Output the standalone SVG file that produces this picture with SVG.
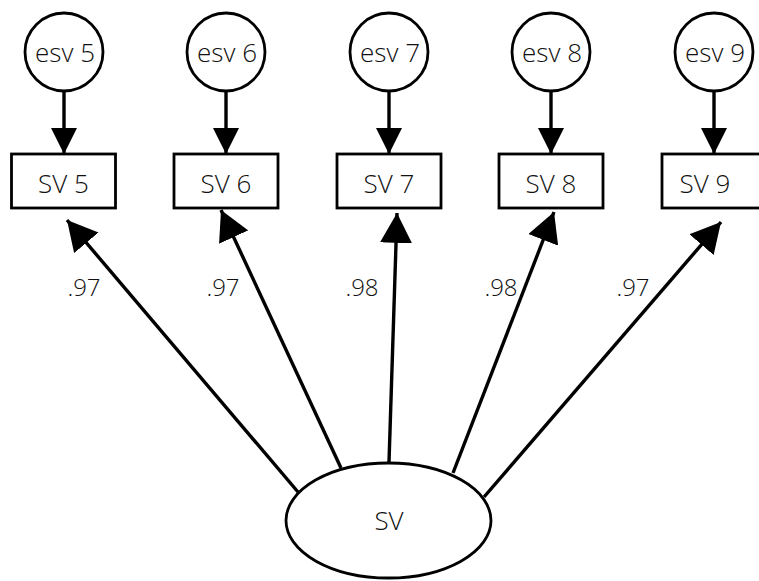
<svg xmlns="http://www.w3.org/2000/svg" width="759" height="581" viewBox="0 0 759 581">
<style>
.n{fill:#fff;stroke:#000;stroke-width:2.8}
.t{font-family:"Open Sans","Noto Sans","DejaVu Sans",sans-serif;font-weight:300;font-size:26px;fill:#111;text-anchor:middle}
.l{font-size:24px}
.e{stroke:#000;stroke-width:3.4;fill:none}
</style>
<defs>
<marker id="a1" markerUnits="userSpaceOnUse" markerWidth="26" markerHeight="26" refX="24" refY="12" orient="auto" viewBox="0 0 24 24"><path d="M0,0 L24,12 L0,24 Z" fill="#000"/></marker>
<marker id="a2" markerUnits="userSpaceOnUse" markerWidth="30" markerHeight="32" refX="28" refY="15" orient="auto" viewBox="0 0 28 30"><path d="M0,0 L28,15 L0,30 Z" fill="#000"/></marker>
</defs>
<rect width="759" height="581" fill="#fff"/>
<g id="connectors">
<line class="e" x1="64" y1="91" x2="64" y2="154" marker-end="url(#a1)"/>
<line class="e" x1="226" y1="91" x2="226" y2="154" marker-end="url(#a1)"/>
<line class="e" x1="389" y1="91" x2="389" y2="154" marker-end="url(#a1)"/>
<line class="e" x1="551" y1="91" x2="551" y2="154" marker-end="url(#a1)"/>
<line class="e" x1="714" y1="91" x2="714" y2="154" marker-end="url(#a1)"/>
<line class="e" x1="298" y1="492" x2="67" y2="220" marker-end="url(#a2)"/>
<line class="e" x1="341" y1="468" x2="221" y2="210" marker-end="url(#a2)"/>
<line class="e" x1="389" y1="462" x2="397" y2="213" marker-end="url(#a2)"/>
<line class="e" x1="453" y1="473" x2="554" y2="212" marker-end="url(#a2)"/>
<line class="e" x1="484" y1="497" x2="721" y2="222" marker-end="url(#a2)"/>
<text class="t l" x="84" y="296">.97</text>
<text class="t l" x="223" y="296">.97</text>
<text class="t l" x="362" y="296">.98</text>
<text class="t l" x="501" y="296">.98</text>
<text class="t l" x="633" y="296">.97</text>
</g>
<g id="esv5"><circle class="n" cx="64" cy="52" r="39"/><text class="t" x="65" y="62">esv 5</text></g>
<g id="esv6"><circle class="n" cx="226" cy="52" r="39"/><text class="t" x="227" y="62">esv 6</text></g>
<g id="esv7"><circle class="n" cx="389" cy="52" r="39"/><text class="t" x="390" y="62">esv 7</text></g>
<g id="esv8"><circle class="n" cx="551" cy="52" r="39"/><text class="t" x="552" y="62">esv 8</text></g>
<g id="esv9"><circle class="n" cx="714" cy="52" r="39"/><text class="t" x="715" y="62">esv 9</text></g>
<g id="sv5"><rect class="n" x="11.5" y="154" width="104" height="54"/><text class="t" x="63.5" y="193">SV 5</text></g>
<g id="sv6"><rect class="n" x="174" y="154" width="104" height="54"/><text class="t" x="226" y="193">SV 6</text></g>
<g id="sv7"><rect class="n" x="337" y="154" width="104" height="54"/><text class="t" x="389" y="193">SV 7</text></g>
<g id="sv8"><rect class="n" x="499" y="154" width="104" height="54"/><text class="t" x="551" y="193">SV 8</text></g>
<g id="sv9"><rect class="n" x="662" y="154" width="104" height="54"/><text class="t" x="705" y="193">SV 9</text></g>
<g id="sv"><ellipse class="n" cx="388.5" cy="520.5" rx="102.5" ry="57.5"/><text class="t" x="389" y="530">SV</text></g>
</svg>
